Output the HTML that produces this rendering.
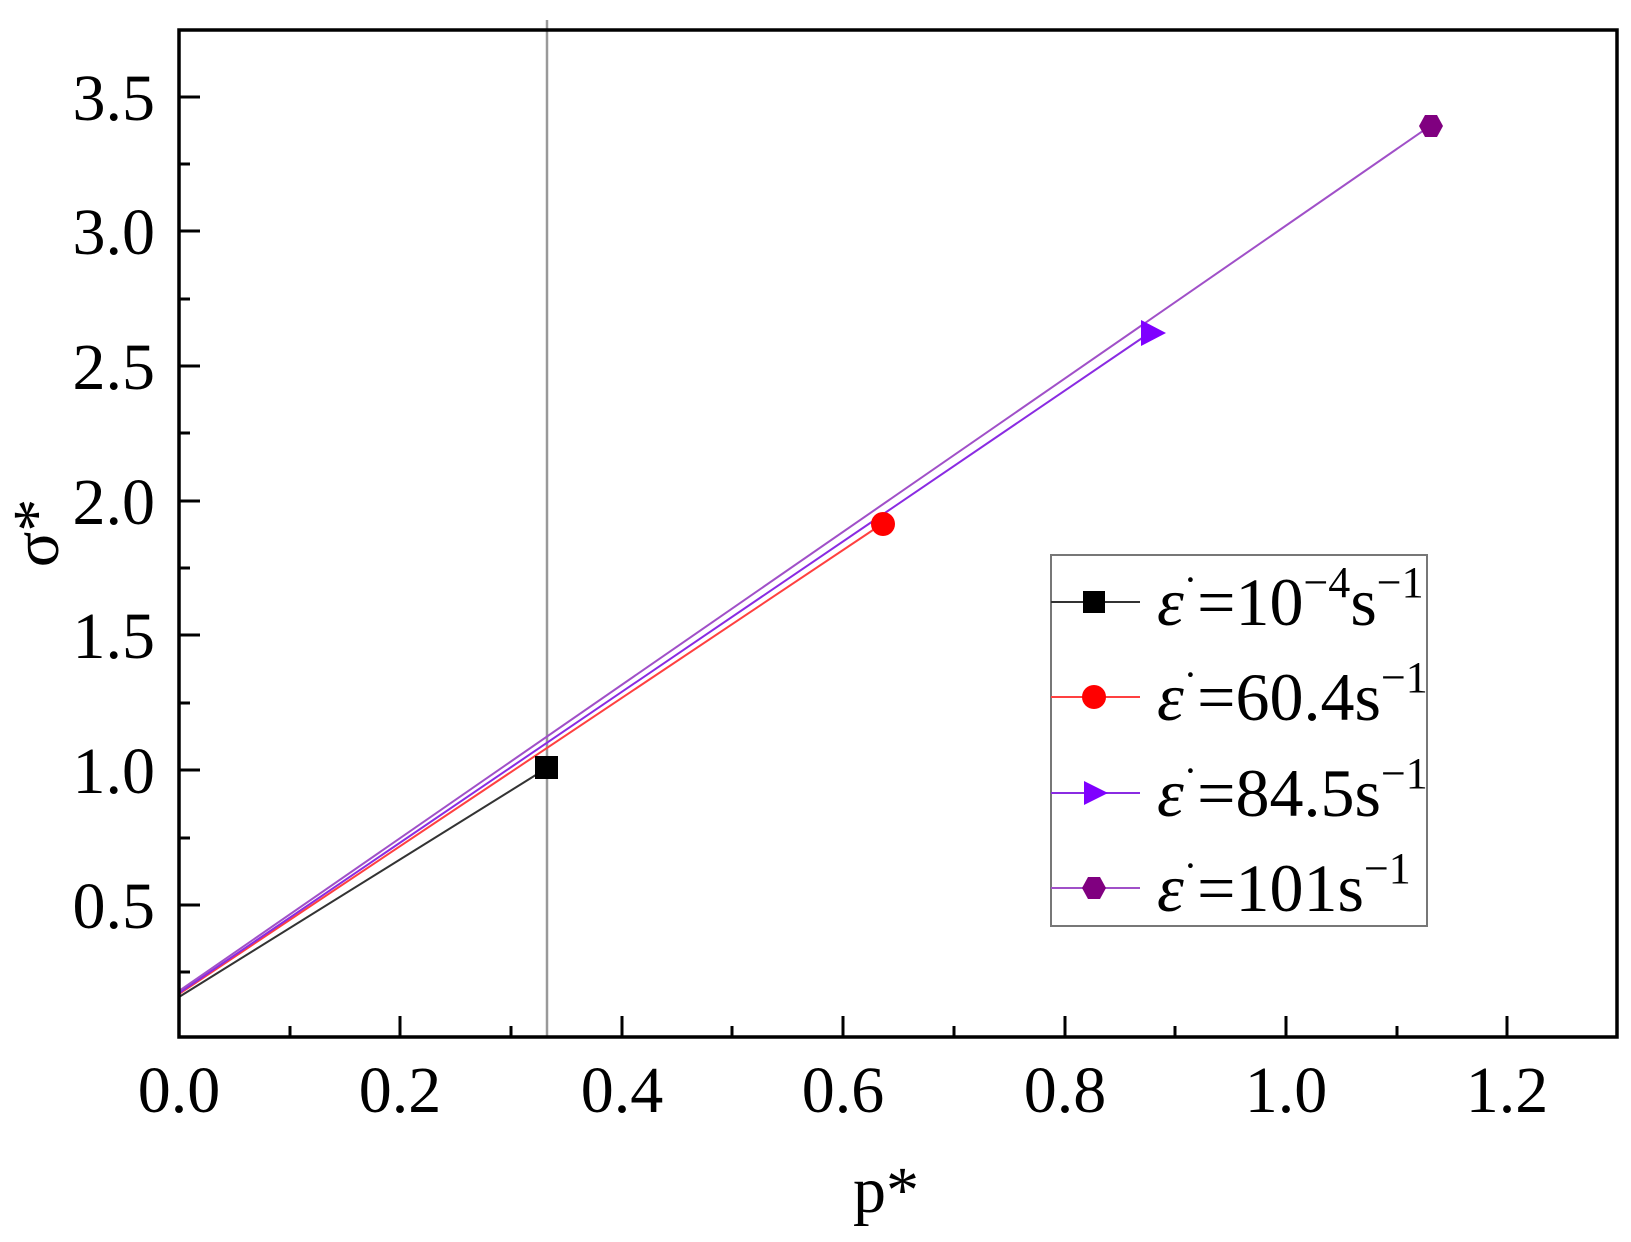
<!DOCTYPE html>
<html><head><meta charset="utf-8"><style>body{margin:0;background:#fff}svg{display:block}text{font-family:"Times New Roman","Liberation Serif",Times,Tinos,serif}</style></head>
<body>
<svg width="1631" height="1242" viewBox="0 0 1631 1242" xmlns="http://www.w3.org/2000/svg">
<rect width="1631" height="1242" fill="#fff"/>
<line x1="547" y1="20" x2="547" y2="1038" stroke="#999" stroke-width="2.5"/>
<line x1="179" y1="997" x2="547" y2="768" stroke="#333" stroke-width="2"/>
<line x1="179" y1="994" x2="882" y2="524" stroke="#ff4040" stroke-width="2"/>
<line x1="179" y1="993" x2="1151" y2="332" stroke="#8a2be2" stroke-width="2"/>
<line x1="179" y1="991" x2="1430" y2="126" stroke="#a050c8" stroke-width="2"/>
<rect x="535" y="756" width="23" height="23" fill="#000"/>
<circle cx="883" cy="524" r="12" fill="#f00"/>
<polygon points="1141,320 1166,333 1141,346" fill="#7f00ff"/>
<polygon points="1425,115 1437,115 1443,126 1437,137 1425,137 1419,126" fill="#800080"/>
<rect x="179" y="30" width="1438" height="1007" fill="none" stroke="#000" stroke-width="3.5"/>
<g stroke="#000" stroke-width="3">
<line x1="179" y1="1037" x2="179" y2="1016"/><line x1="290" y1="1037" x2="290" y2="1026"/>
<line x1="400" y1="1037" x2="400" y2="1016"/><line x1="511" y1="1037" x2="511" y2="1026"/>
<line x1="622" y1="1037" x2="622" y2="1016"/><line x1="732" y1="1037" x2="732" y2="1026"/>
<line x1="843" y1="1037" x2="843" y2="1016"/><line x1="954" y1="1037" x2="954" y2="1026"/>
<line x1="1065" y1="1037" x2="1065" y2="1016"/><line x1="1175" y1="1037" x2="1175" y2="1026"/>
<line x1="1286" y1="1037" x2="1286" y2="1016"/><line x1="1397" y1="1037" x2="1397" y2="1026"/>
<line x1="1507" y1="1037" x2="1507" y2="1016"/>
<line x1="179" y1="972" x2="190" y2="972"/>
<line x1="179" y1="905" x2="200" y2="905"/><line x1="179" y1="838" x2="190" y2="838"/>
<line x1="179" y1="770" x2="200" y2="770"/><line x1="179" y1="703" x2="190" y2="703"/>
<line x1="179" y1="635" x2="200" y2="635"/><line x1="179" y1="568" x2="190" y2="568"/>
<line x1="179" y1="501" x2="200" y2="501"/><line x1="179" y1="433" x2="190" y2="433"/>
<line x1="179" y1="366" x2="200" y2="366"/><line x1="179" y1="299" x2="190" y2="299"/>
<line x1="179" y1="231" x2="200" y2="231"/><line x1="179" y1="164" x2="190" y2="164"/>
<line x1="179" y1="97" x2="200" y2="97"/>
</g>
<g font-size="66" text-anchor="middle">
<text x="179" y="1112">0.0</text><text x="400" y="1112">0.2</text><text x="622" y="1112">0.4</text>
<text x="843" y="1112">0.6</text><text x="1065" y="1112">0.8</text><text x="1286" y="1112">1.0</text>
<text x="1507" y="1112">1.2</text>
</g>
<g font-size="66" text-anchor="end">
<text x="155" y="120" >3.5</text><text x="155" y="254">3.0</text><text x="155" y="389">2.5</text>
<text x="155" y="524">2.0</text><text x="155" y="658">1.5</text><text x="155" y="793">1.0</text>
<text x="155" y="928">0.5</text>
</g>
<text x="886" y="1212" font-size="66" text-anchor="middle">p*</text>
<text transform="translate(58,533) rotate(-90)" font-size="66" text-anchor="middle">σ*</text>
<rect x="1051" y="555" width="376" height="371" fill="#fff" stroke="#777" stroke-width="2"/>
<line x1="1051" y1="602" x2="1140" y2="602" stroke="#333" stroke-width="2"/>
<rect x="1083" y="591" width="22" height="22" fill="#000"/>
<line x1="1051" y1="697" x2="1140" y2="697" stroke="#ff4040" stroke-width="2"/>
<circle cx="1094" cy="697" r="12" fill="#f00"/>
<line x1="1051" y1="793" x2="1140" y2="793" stroke="#8a2be2" stroke-width="2"/>
<polygon points="1084,781 1108,793 1084,805" fill="#7f00ff"/>
<line x1="1051" y1="888" x2="1140" y2="888" stroke="#a050c8" stroke-width="2"/>
<polygon points="1088,877 1100,877 1106,888 1100,899 1088,899 1082,888" fill="#800080"/>
<g font-size="68">
<text x="1157" y="625"><tspan font-style="italic">ε</tspan><tspan font-size="40" dy="-32">·</tspan><tspan dy="32">=10</tspan><tspan font-size="44" dy="-28">−4</tspan><tspan dy="28">s</tspan><tspan font-size="44" dy="-28">−1</tspan></text>
<text x="1157" y="720"><tspan font-style="italic">ε</tspan><tspan font-size="40" dy="-32">·</tspan><tspan dy="32">=60.4s</tspan><tspan font-size="44" dy="-28">−1</tspan></text>
<text x="1157" y="816"><tspan font-style="italic">ε</tspan><tspan font-size="40" dy="-32">·</tspan><tspan dy="32">=84.5s</tspan><tspan font-size="44" dy="-28">−1</tspan></text>
<text x="1157" y="911"><tspan font-style="italic">ε</tspan><tspan font-size="40" dy="-32">·</tspan><tspan dy="32">=101s</tspan><tspan font-size="44" dy="-28">−1</tspan></text>
</g>
</svg>
</body></html>
